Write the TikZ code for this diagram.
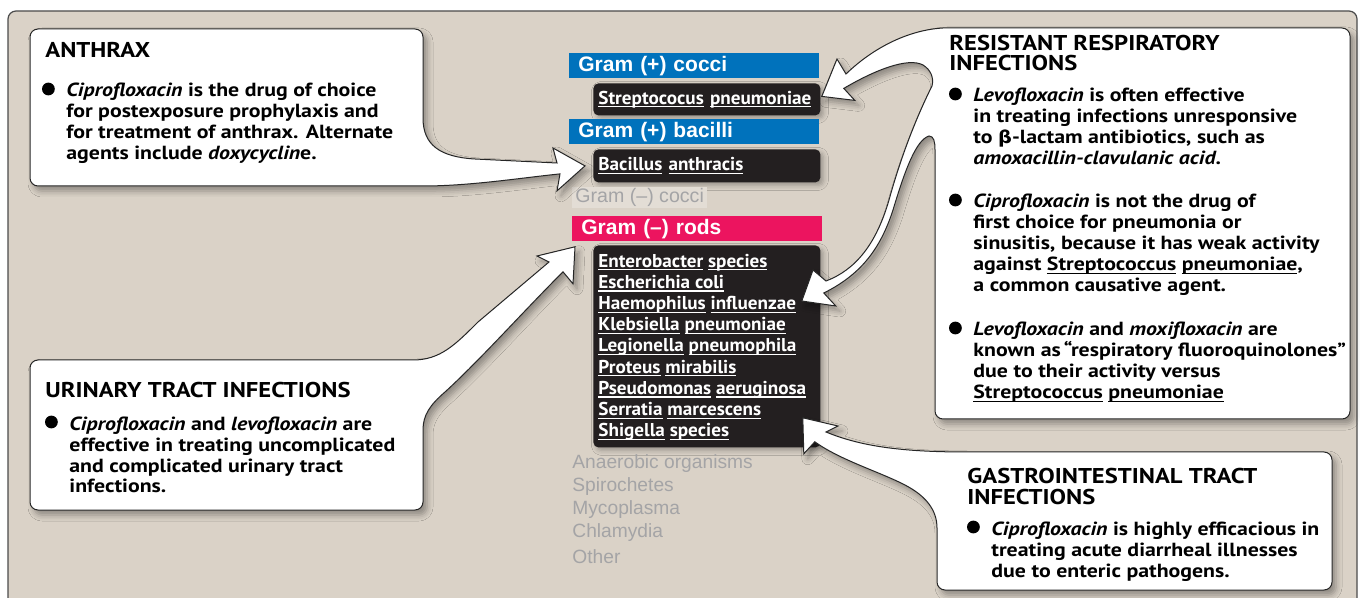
\documentclass[tikz,border=0pt]{standalone}
\usepackage{fontspec}
\setmainfont{PT Sans}[FakeStretch=1.15]
\newfontfamily\specfam{PT Sans}[FakeStretch=1.03]
\newfontfamily\gramfont{Liberation Sans}
\newfontfamily\symfont{DejaVu Sans}[FakeStretch=1.1]
\usetikzlibrary{positioning,calc,shadows.blur}
\definecolor{panelbg}{HTML}{DAD2C7}
\definecolor{grampos}{HTML}{0072BC}
\definecolor{gramneg}{HTML}{EC145F}
\definecolor{specfill}{HTML}{231F20}
\definecolor{fadedtext}{HTML}{A4A4A6}
\definecolor{fadedfill}{HTML}{E3DDD5}

\newcommand{\headfont}{\fontsize{10.7}{10}\selectfont\bfseries}
\newcommand{\bodyfont}{\fontsize{9.5}{10.5}\selectfont\bfseries}
\newcommand{\specfont}{\specfam\fontsize{9.3}{10.6}\selectfont\bfseries}
\newsavebox\ulbox
\newcommand{\ul}[1]{\leavevmode\sbox\ulbox{#1}\rlap{\rule[-1.6pt]{\wd\ulbox}{0.6pt}}\usebox\ulbox}
\newcommand{\betachar}{{\symfont\bfseries\fontsize{8.8}{10.5}\selectfont β}}
% bullet on the first line of a node anchored at its last baseline
\newcommand{\bulletat}[2]{\fill ([xshift=-8.8pt,yshift={4pt+#2*10.5pt}]#1.base west) circle (3.2pt);}

\begin{document}
\begin{tikzpicture}[x=0.5pt, y=-0.5pt,
  frame/.style={draw=black!70, line width=0.6pt, fill=panelbg, rounded corners=4pt},
  callout/.style={fill=white, draw=black!85, line width=0.5pt,
    blur shadow={shadow xshift=2pt, shadow yshift=-2.5pt, shadow blur radius=3pt, shadow opacity=35}},
  headtext/.style={font=\headfont, align=left, inner sep=0pt, anchor=base west},
  bodytext/.style={font=\bodyfont, align=left, inner sep=0pt, anchor=base west},
  gramlabel/.style={text=white, font=\gramfont\bfseries\fontsize{10.5}{12}\selectfont, text width=116pt, align=left, inner xsep=4.5pt, inner ysep=0pt, minimum height=12.5pt, anchor=north west},
  gramplus/.style={fill=grampos, gramlabel},
  gramminus/.style={fill=gramneg, gramlabel},
  specbox/.style={fill=specfill, rounded corners=2.5pt, text=white, font=\specfont, text width=108.5pt, align=left, inner xsep=2.5pt, inner ysep=0pt, anchor=north west,
    blur shadow={shadow xshift=1.5pt, shadow yshift=-1.5pt, shadow blur radius=2.5pt, shadow opacity=30}},
  spectext/.style={text=white, font=\specfont, align=left, inner sep=0pt, anchor=base west},
  faded/.style={text=fadedtext, font=\gramfont\fontsize{9.6}{11.5}\selectfont, align=left, inner sep=0pt, anchor=base west}
]
  \useasboundingbox (0,0) rectangle (1360,598);
  \draw[frame] (8,11) rectangle (1357,640);

  % organism column
  \node[gramplus] (gpc) at (569,53) {Gram (+) cocci};
  \node[specbox, minimum height=16pt] (strep) at (593,83) {\ul{Streptococus}~\ul{pneumoniae}};
  \node[gramplus] (gpb) at (569,119) {Gram (+) bacilli};
  \node[specbox, minimum height=16.5pt] (bacillus) at (593,149) {\ul{Bacillus}~\ul{anthracis}};
  \node[fill=fadedfill, text=fadedtext, font=\gramfont\fontsize{9.8}{11}\selectfont, inner xsep=1.5pt, inner ysep=0pt, minimum height=10.5pt, anchor=north west] (gnc) at (572,187) {Gram (–) cocci};
  \node[gramminus] (gnr) at (572,216) {Gram (–) rods};
  \node[specbox, minimum width=113.5pt, minimum height=101pt] (rods) at (593,245) {};
  \node[spectext] (rodlist) at ($(rods.south west)+(5,-11)$) {%
    \ul{Enterobacter}~\ul{species}\\
    \ul{Escherichia~coli}\\
    \ul{Haemophilus}~\ul{influenzae}\\
    \ul{Klebsiella}~\ul{pneumoniae}\\
    \ul{Legionella}~\ul{pneumophila}\\
    \ul{Proteus}~\ul{mirabilis}\\
    \ul{Pseudomonas}~\ul{aeruginosa}\\
    \ul{Serratia}~\ul{marcescens}\\
    \ul{Shigella}~\ul{species}};
  \node[faded] (others) at (572,563) {Anaerobic organisms\\Spirochetes\\Mycoplasma\\Chlamydia\\[1.5pt]Other};

  % arrow tips
  \coordinate (tipA) at ($(bacillus.west)+(-8,0)$);
  \coordinate (tipU) at ($(gnr.south west)+(3,5)$);
  \coordinate (tipR1) at ($(strep.east)+(1,-3)$);
  \coordinate (tipR2) at ($(rods.north east)+(-19,56)$);
  \coordinate (tipG) at ($(rods.south east)+(-18,-30)$);

  % anthrax
  \path[callout] (30,110) [rounded corners=4pt] -- (30,29) -- (423,29) -- (423,110) [sharp corners]
    .. controls (423,145) and (440,157) .. (475,159) -- (557,163) -- (553,148)
    -- (tipA) -- ++(-28,25) -- ++(3,-17)
    .. controls (520,178) and (470,186) .. (423,186) [rounded corners=4pt] -- (30,186) -- cycle;
  \node[headtext] (anthraxhead) at (45,58) {ANTHRAX};
  \node[bodytext] (anthraxbody) at (66,160) {\textit{Ciprofloxacin} is the drug of choice\\
    for postexposure prophylaxis and\\for treatment of anthrax. Alternate\\
    agents include \textit{doxycyclin}e.};
  \bulletat{anthraxbody}{3}

  % urinary tract
  \path[callout] (30,430) [rounded corners=4pt] -- (30,360) -- (405,360) [sharp corners]
    .. controls (440,360) and (455,345) .. (478,322) -- (549,262) -- (537,256)
    -- (tipU) -- ++(-2,37) -- ++(-10,-12)
    .. controls (520,315) and (480,360) .. (445,392) .. controls (430,405) and (423,415) .. (423,430)
    [rounded corners=4pt] -- (423,510) -- (30,510) -- cycle;
  \node[headtext] (utihead) at (45,398) {URINARY TRACT INFECTIONS};
  \node[bodytext] (utibody) at (69,493) {\textit{Ciprofloxacin} and \textit{levofloxacin} are\\
    effective in treating uncomplicated\\and complicated urinary tract\\infections.};
  \bulletat{utibody}{3}

  % resistant respiratory
  \path[callout] (1350,200) [rounded corners=4pt] -- (1350,28) -- (960,28) [sharp corners]
    .. controls (915,27) and (876,45) .. (846,74) -- (837,59)
    -- (tipR1) -- ++(33,4) -- ++(-11,-12)
    .. controls (875,70) and (908,57) .. (923,65) .. controls (931,70) and (934,78) .. (932,86)
    .. controls (915,120) and (900,160) .. (889,200) .. controls (876,245) and (855,270) .. (826,281)
    -- (813,270) -- (tipR2) -- ++(34,5) -- ++(-12,-13)
    .. controls (860,275) and (880,250) .. (893,210) .. controls (905,170) and (916,140) .. (929,136)
    .. controls (934,136) and (935,142) .. (935,150)
    [rounded corners=4pt] -- (935,419) -- (1350,419) -- cycle;
  \node[headtext] (resphead) at (949,71) {RESISTANT RESPIRATORY\\INFECTIONS};
  \node[bodytext] (resp1) at (973,165) {\textit{Levofloxacin} is often effective\\
    in treating infections unresponsive\\to \betachar-lactam antibiotics, such as\\
    \textit{amoxacillin-clavulanic acid}.};
  \node[bodytext] (resp2) at (973,292) {\textit{Ciprofloxacin} is not the drug of\\
    first choice for pneumonia or\\sinusitis, because it has weak activity\\
    against \ul{Streptococcus} \ul{pneumoniae},\\a common causative agent.};
  \node[bodytext] (resp3) at (973,399) {\textit{Levofloxacin} and \textit{moxifloxacin} are\\
    known as\,“respiratory fluoroquinolones”\\due to their activity versus\\
    \ul{Streptococcus} \ul{pneumoniae}};
  \bulletat{resp1}{3}
  \bulletat{resp2}{4}
  \bulletat{resp3}{3}

  % gastrointestinal
  \path[callout] (1332,520) [rounded corners=4pt] -- (1332,452) -- (975,452) [sharp corners]
    .. controls (900,452) and (860,446) .. (826,432) -- (838,426)
    -- (tipG) -- ++(1,36) -- ++(11,-12)
    .. controls (840,460) and (880,472) .. (905,485) .. controls (926,496) and (937,510) .. (937,528)
    [rounded corners=4pt] -- (937,590) -- (1332,590) -- cycle;
  \node[headtext] (gihead) at (967,504) {GASTROINTESTINAL TRACT\\INFECTIONS};
  \node[bodytext] (gibody) at (991,577) {\textit{Ciprofloxacin} is highly efficacious in\\
    treating acute diarrheal illnesses\\due to enteric pathogens.};
  \bulletat{gibody}{2}
\end{tikzpicture}
\end{document}
